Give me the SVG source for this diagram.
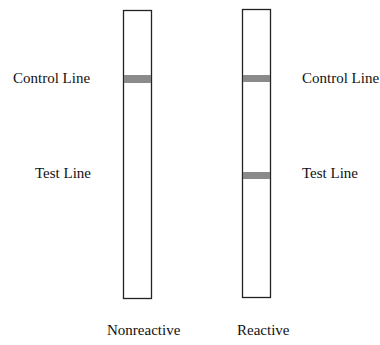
<svg xmlns="http://www.w3.org/2000/svg" width="380" height="345" viewBox="0 0 380 345">
<style>
.strip{fill:#fff;stroke:#222;stroke-width:1.3}
.band{fill:#8a8a8a;stroke:none}
.lbl{font-family:'Liberation Serif','DejaVu Serif',serif;font-size:15px;fill:#111}
</style>
<rect width="380" height="345" fill="#fff"/>
<g id="strip-nonreactive">
<rect class="strip" x="123.5" y="10.5" width="28" height="288"/>
<rect class="band" x="124" y="75" width="27" height="8"/>
</g>
<g id="strip-reactive">
<rect class="strip" x="242.5" y="9.5" width="28" height="288"/>
<rect class="band" x="243" y="75" width="27" height="7"/>
<rect class="band" x="243" y="172" width="27" height="7"/>
</g>
<g id="labels">
<text class="lbl" x="13" y="83">Control Line</text>
<text class="lbl" x="35" y="178">Test Line</text>
<text class="lbl" x="302" y="83">Control Line</text>
<text class="lbl" x="302" y="178">Test Line</text>
<text class="lbl" x="107" y="335">Nonreactive</text>
<text class="lbl" x="237" y="335">Reactive</text>
</g>
</svg>
